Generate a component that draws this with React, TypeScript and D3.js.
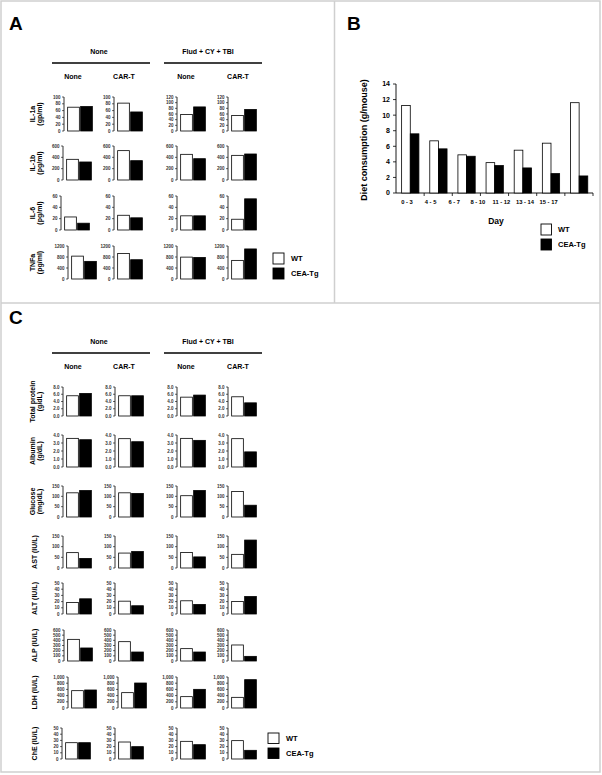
import React from "react";
import * as d3 from "d3";

// ---- Panel A: serum cytokines ----
const groupHeads = ["None", "Flud + CY + TBI"];
const subHeads = ["None", "CAR-T", "None", "CAR-T"];
const cytokines = [["IL-1a", "(gp/ml)"], ["IL-1b", "(pg/ml)"], ["IL-6", "(pg/ml)"], ["TNFa", "(pg/ml)"]];
const cytoWT = [[70, 82, 58, 55], [365, 518, 453, 435], [23, 26, 25, 19], [832, 927, 796, 677]];
const cytoTg = [[72, 56, 85, 76], [318, 341, 376, 459], [12, 21.5, 25, 55], [641, 701, 784, 1093]];
const cytoMax = [[100, 100, 120, 120], [600, 600, 600, 600], [60, 60, 60, 60], [1200, 1200, 1200, 1200]];
const cytoStep = [20, 200, 20, 400];

// ---- Panel B: diet consumption ----
const days = ["0 - 3", "4 - 5", "6 - 7", "8 - 10", "11 - 12", "13 - 14", "15 - 17"];
const dietWT = [11.25, 6.7, 4.9, 3.9, 5.5, 6.4, 11.6];
const dietTg = [7.6, 5.67, 4.72, 3.52, 3.22, 2.49, 2.19];
const dietTicks = [0, 2, 4, 6, 8, 10, 12, 14];

// ---- Panel C: serum chemistry ----
const chemNames = [["Total protein", "(g/dL)"], ["Albumin", "(g/dL)"], ["Glucose", "(mg/dL)"], ["AST (IU/L)"], ["ALT (IU/L)"], ["ALP (IU/L)"], ["LDH (IU/L)"], ["ChE (IU/L)"]];
const chemWT = [[5.58, 5.58, 5.2, 5.3], [3.58, 3.54, 3.58, 3.54], [117, 117, 103, 123], [72, 70, 73, 64], [18.6, 20.7, 21.3, 20.2], [419, 374, 239, 310], [559, 495, 366, 344], [26.3, 27.4, 28.5, 29.6]];
const chemTg = [[6.23, 5.58, 5.77, 3.63], [3.41, 3.16, 3.33, 1.89], [128, 114, 128, 57], [45, 77, 52, 131], [24.5, 13.3, 15.4, 28.2], [252, 174, 174, 90], [581, 806, 602, 914], [26.3, 19.9, 23.1, 14]];
const chemMax = [8, 4, 150, 150, 50, 600, 1000, 50];
const chemStep = [2, 1, 50, 50, 10, 100, 200, 10];
const chemFmt = [".1f", ".1f", "d", "d", "d", "d", ",", "d"];

const series = ["WT", "CEA-Tg"];
const font = "'Liberation Sans', Arial, sans-serif";

// layout (pixel positions of the panels)
const aRows = [[97, 131], [146, 180], [196, 230], [246, 279]];
const aCol1 = [64, 63, 61, 68];
const cRows = [[387, 416], [435, 467], [486, 517], [536, 568], [583, 614], [630, 661], [677, 708], [728, 759]];
const cCol1 = [63, 63, 63, 63, 63, 64, 68, 62];
const cCol2 = [115, 115, 115, 115, 115, 115, 118, 115];
const colX = [64, 114, 177, 228];

function Mini({ x0, top, bot, max, step, fmt, wt, tg }: any) {
  const y = d3.scaleLinear().domain([0, max]).range([bot, top]);
  const xb = d3.scaleBand().domain(series).range([x0 + 3, x0 + 29]).paddingInner(0.1).paddingOuter(0.05);
  const ticks = d3.range(0, max + step / 2, step);
  const f = d3.format(fmt);
  return (
    <g>
      <line x1={x0} x2={x0} y1={top} y2={bot} stroke="#000" strokeWidth={0.8} />
      {ticks.map((t) => (
        <g key={t}>
          <line x1={x0 - 2} x2={x0} y1={y(t)} y2={y(t)} stroke="#000" strokeWidth={0.6} />
          <text x={x0 - 3.5} y={y(t) + 1.6} fontSize={4.5} textAnchor="end" fontWeight="bold" fill="#333">{f(t)}</text>
        </g>
      ))}
      {[wt, tg].map((v, i) => (
        <rect key={i} x={xb(series[i])} y={y(v)} width={xb.bandwidth()} height={bot - y(v)}
          fill={i === 0 ? "#fff" : "#000"} stroke="#000" strokeWidth={0.8} />
      ))}
    </g>
  );
}

function Headers({ y0 }: { y0: number }) {
  const gx = [99, 208];
  const lines = [[52, 150], [164, 262]];
  const sx = [73, 124, 186, 238];
  return (
    <g fontWeight="bold" fontSize={7} textAnchor="middle">
      {groupHeads.map((h, i) => (
        <g key={i}>
          <text x={gx[i]} y={y0 + 2.5}>{h}</text>
          <line x1={lines[i][0]} x2={lines[i][1]} y1={y0 + 12} y2={y0 + 12} stroke="#000" strokeWidth={1.6} />
        </g>
      ))}
      {subHeads.map((h, i) => (
        <text key={i} x={sx[i]} y={y0 + 27.5}>{h}</text>
      ))}
    </g>
  );
}

function YLabel({ lines, cy }: { lines: string[]; cy: number }) {
  const xs = lines.length === 1 ? [34] : [32, 39.5];
  return (
    <g fontWeight="bold" fontSize={7} textAnchor="middle">
      {lines.map((l, i) => (
        <text key={i} transform={`translate(${xs[i] + 2.5},${cy}) rotate(-90)`}>{l}</text>
      ))}
    </g>
  );
}

function Legend({ x, y, w = 11, h = 11, gap = 15, tx = 7, size = 7.5 }: any) {
  return (
    <g fontWeight="bold" fontSize={size}>
      {series.map((s, i) => (
        <g key={s}>
          <rect x={x} y={y + i * gap} width={w} height={h} fill={i === 0 ? "#fff" : "#000"} stroke="#000" strokeWidth={0.9} />
          <text x={x + w + tx} y={y + i * gap + h / 2 + 2.7}>{s}</text>
        </g>
      ))}
    </g>
  );
}

function PanelB() {
  const y = d3.scaleLinear().domain([0, 14]).range([193, 84]);
  const xg = d3.scaleBand().domain(days).range([396, 593.4]).paddingInner(0.386).paddingOuter(0.2);
  const xs = d3.scaleBand().domain(series).range([0, xg.bandwidth()]);
  // the category labels in the original sit on a narrower pitch than the bars
  const xl = d3.scaleBand().domain(days).range([395.2, 560.4]);
  const step = xg.step();
  return (
    <g fontFamily={font}>
      <line x1={396} x2={396} y1={84} y2={193} stroke="#000" strokeWidth={0.9} />
      <line x1={396} x2={396 + step * days.length} y1={193} y2={193} stroke="#000" strokeWidth={0.9} />
      {dietTicks.map((t) => (
        <g key={t}>
          <line x1={393} x2={396} y1={y(t)} y2={y(t)} stroke="#000" strokeWidth={0.8} />
          <text x={390} y={y(t) + 2.4} fontSize={7} fontWeight="bold" textAnchor="end">{t}</text>
        </g>
      ))}
      {days.map((d, i) => (
        <g key={d}>
          <line x1={396 + step * (i + 1)} x2={396 + step * (i + 1)} y1={193} y2={196} stroke="#000" strokeWidth={0.8} />
          <text x={(xl(d) as number) + xl.bandwidth() / 2} y={204.3} fontSize={5.8} fontWeight="bold" textAnchor="middle">{d}</text>
          {[dietWT[i], dietTg[i]].map((v, j) => (
            <rect key={j} x={(xg(d) as number) + (xs(series[j]) as number)} y={y(v)} width={xs.bandwidth()} height={193 - y(v)}
              fill={j === 0 ? "#fff" : "#000"} stroke="#000" strokeWidth={0.8} />
          ))}
        </g>
      ))}
      <text transform="translate(367,140) rotate(-90)" fontSize={9} fontWeight="bold" textAnchor="middle">Diet consumption (g/mouse)</text>
      <text x={496} y={224} fontSize={8.5} fontWeight="bold" textAnchor="middle">Day</text>
      <Legend x={541} y={224} w={10.5} h={11} gap={15} tx={6.5} size={7.5} />
    </g>
  );
}

export default function App() {
  return (
    <svg width={602} height={775} style={{ position: "absolute", left: 0, top: 0, background: "#fff" }} fontFamily={font}>
      <rect x={0} y={0} width={602} height={775} fill="#fff" />
      {/* panel borders */}
      <g stroke="#cfcfcf" strokeWidth={1.5} fill="none">
        <rect x={1} y={1} width={599} height={771} />
        <line x1={334.5} x2={334.5} y1={1} y2={303} />
        <line x1={1} x2={600} y1={303} y2={303} />
      </g>
      <g fontSize={19} fontWeight="bold">
        <text x={9} y={30}>A</text>
        <text x={347} y={30}>B</text>
        <text x={9} y={324}>C</text>
      </g>

      {/* Panel A */}
      <Headers y0={51} />
      {cytokines.map((lab, r) => (
        <g key={r}>
          <YLabel lines={lab} cy={(aRows[r][0] + aRows[r][1]) / 2} />
          {colX.map((cx, c) => (
            <Mini key={c} x0={c === 0 ? aCol1[r] : cx} top={aRows[r][0]} bot={aRows[r][1]}
              max={cytoMax[r][c]} step={cytoStep[r]} fmt="d" wt={cytoWT[r][c]} tg={cytoTg[r][c]} />
          ))}
        </g>
      ))}
      <Legend x={273} y={253} />

      <PanelB />

      {/* Panel C */}
      <Headers y0={341} />
      {chemNames.map((lab, r) => (
        <g key={r}>
          <YLabel lines={lab} cy={(cRows[r][0] + cRows[r][1]) / 2} />
          {colX.map((cx, c) => (
            <Mini key={c} x0={c === 0 ? cCol1[r] : c === 1 ? cCol2[r] : cx} top={cRows[r][0]} bot={cRows[r][1]}
              max={chemMax[r]} step={chemStep[r]} fmt={chemFmt[r]} wt={chemWT[r][c]} tg={chemTg[r][c]} />
          ))}
        </g>
      ))}
      <Legend x={268} y={733} w={11} h={10.5} gap={15} />
    </svg>
  );
}
